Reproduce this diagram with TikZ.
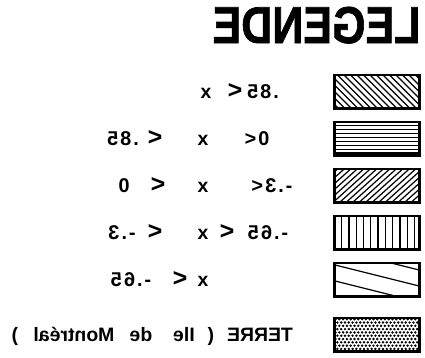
\documentclass[tikz,border=0pt]{standalone}
\usepackage{fontspec}
\setsansfont{Liberation Sans}
\usetikzlibrary{positioning}

% the whole legend is printed mirror-wise
\newcommand{\mirr}[1]{\reflectbox{#1}}

\begin{document}
\begin{tikzpicture}[
  x=1bp, y=-1bp,
  key/.style={
    rectangle, draw, line width=2.6bp,
    minimum width=85.4bp, minimum height=33.4bp, inner sep=0pt},
  hatch/.style={line width=1.2bp},
  txt/.style={
    anchor=base, inner sep=0pt, yshift=-7bp,
    font=\sffamily\bfseries\fontsize{19.5}{19.5}\selectfont},
  num/.style={txt,
    font=\sffamily\bfseries\fontsize{20}{20}\selectfont\addfontfeature{LetterSpace=10}},
  rel/.style={txt, font=\sffamily\bfseries\fontsize{25}{25}\selectfont},
  title/.style={anchor=base, inner sep=0pt,
    font=\sffamily\bfseries\fontsize{52}{52}\selectfont\addfontfeature{FakeBold=1.5}},
  % ── fillings of the keys ─────────────────────────────────────────────
  hatchdown/.style={path picture={
    \foreach \i in {-36,-29.5,...,90}
      \draw[hatch] ([shift={(\i,0)}]path picture bounding box.north west) -- ++(36,36);}},
  hatchhoriz/.style={path picture={
    \foreach \j/\w in {3.5/1.6,7.5/0.8,11.5/1.3,15.5/0.8,19.5/1.3,23.5/0.8,27.5/1.3,31/1.6}
      \draw[line width=\w bp] ([shift={(0,\j)}]path picture bounding box.north west) -- ++(90,0);}},
  hatchup/.style={path picture={
    \foreach \i in {-40,-33.5,...,90}
      \draw[hatch] ([shift={(\i,0)}]path picture bounding box.south west) -- ++(40,-36);}},
  hatchvert/.style={path picture={
    \foreach \i in {1,...,11}
      \draw[hatch, line width=1.3bp] ([shift={(\i*7.3,0)}]path picture bounding box.north west) -- ++(0,36);}},
  hatchsparse/.style={path picture={
    \foreach \c in {-14,2,18,34}
      \draw[hatch] ([shift={(0,\c)}]path picture bounding box.north west) -- ++(90,22.5);}},
  dotfill/.style={path picture={
    \foreach \r [evaluate=\r as \o using {1.9*mod(\r,2)}] in {0,...,10}
      \foreach \c in {0,...,23}
        \fill ([shift={(\c*3.8+\o+1.2,\r*3.3+1.4)}]path picture bounding box.north west) circle (1.35bp);}},
]
  \useasboundingbox (0,0) rectangle (425,358);

  % ── Title ───────────────────────────────────────────────────────────
  \node[title] (legende) at (316.5,43) {\scalebox{-0.83}[1]{LEGENDE}};

  % ── Keys ────────────────────────────────────────────────────────────
  \node[key, hatchdown]               (key1) at (377,91.5) {};
  \node[key, hatchhoriz,  below=11bp of key1] (key2) {};
  \node[key, hatchup,     below=11bp of key2] (key3) {};
  \node[key, hatchvert,   below=11bp of key3] (key4) {};
  \node[key, hatchsparse, below=11bp of key4] (key5) {};
  \node[key, dotfill,     below=19bp of key5] (key6) {};

  % ── Classes ─────────────────────────────────────────────────────────
  \node[num] (c1lo) at (263,0 |- key1) {\mirr{.85}};
  \node[rel] (c1lt) at (235,0 |- key1) {\mirr{<}};
  \node[txt] (c1x)  at (206,0 |- key1) {\mirr{x}};

  \node[num] (c2lo) at (257,0 |- key2) {\mirr{0<}};
  \node[txt] (c2x)  at (203,0 |- key2) {\mirr{x}};
  \node[rel] (c2lt) at (155,0 |- key2) {\mirr{<}};
  \node[num] (c2hi) at (123,0 |- key2) {\mirr{.85}};

  \node[num] (c3lo) at (272,0 |- key3) {\mirr{-.3<}};
  \node[txt] (c3x)  at (203,0 |- key3) {\mirr{x}};
  \node[rel] (c3lt) at (158,0 |- key3) {\mirr{<}};
  \node[num] (c3hi) at (124,0 |- key3) {\mirr{0}};

  \node[num] (c4lo) at (268,0 |- key4) {\mirr{-.65}};
  \node[rel] (c4l1) at (227,0 |- key4) {\mirr{<}};
  \node[txt] (c4x)  at (203,0 |- key4) {\mirr{x}};
  \node[rel] (c4l2) at (155,0 |- key4) {\mirr{<}};
  \node[num] (c4hi) at (122,0 |- key4) {\mirr{-.3}};

  \node[txt] (c5x)  at (203,0 |- key5) {\mirr{x}};
  \node[rel] (c5lt) at (180,0 |- key5) {\mirr{<}};
  \node[num] (c5hi) at (131,0 |- key5) {\mirr{-.65}};

  % land
  \node[txt] (terre)  at (260,0 |- key6) {\mirr{TERRE}};
  \node[txt] (paro)   at (211,0 |- key6) {\mirr{(}};
  \node[txt] (ile)    at (184,0 |- key6) {\mirr{Ile}};
  \node[txt] (de)     at (141,0 |- key6) {\mirr{de}};
  \node[txt] (mtl)    at (74,0 |- key6)  {\mirr{Montréal}};
  \node[txt] (parc)   at (15,0 |- key6)  {\mirr{)}};

\end{tikzpicture}
\end{document}
